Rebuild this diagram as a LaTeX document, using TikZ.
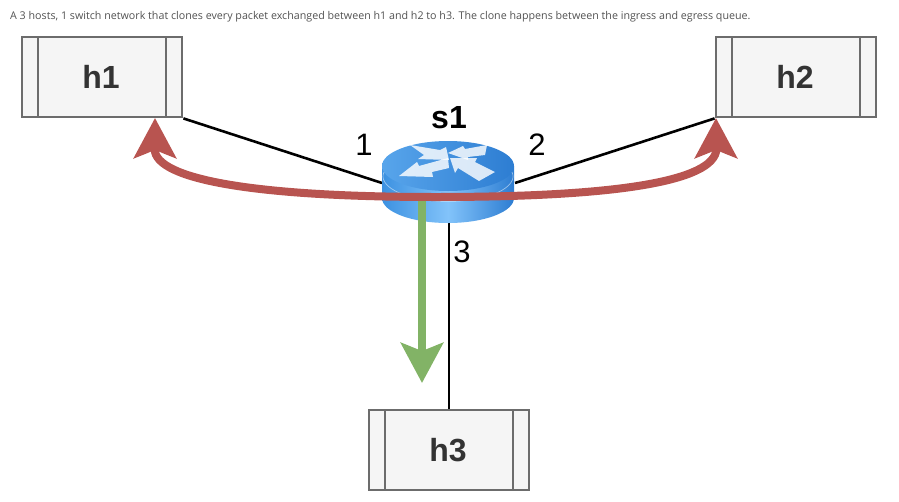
\documentclass[tikz,border=0pt]{standalone}
\usepackage{fontspec}
\setmainfont{Liberation Sans}
\newfontfamily\captionfont{Open Sans}
\usetikzlibrary{arrows.meta}
\definecolor{hostgray}{RGB}{108,108,108}
\definecolor{hostfill}{RGB}{245,245,245}
\definecolor{hosttext}{RGB}{51,51,51}
\definecolor{clonered}{RGB}{184,84,80}
\definecolor{clonegreen}{RGB}{130,179,102}
\definecolor{swtop}{RGB}{60,145,225}
\definecolor{swlight}{RGB}{130,195,250}
\definecolor{swdark}{RGB}{45,125,210}
\tikzset{
  hostbox/.style={draw=hostgray, line width=2.8pt, fill=hostfill, text=hosttext,
    minimum width=160pt, minimum height=80pt, inner sep=0pt, font=\fontsize{32}{32}\selectfont\bfseries,
    path picture={
      \draw [hostgray, line width=2.8pt] ([xshift=16pt]path picture bounding box.north west) -- ([xshift=16pt]path picture bounding box.south west);
      \draw [hostgray, line width=2.8pt] ([xshift=-16pt]path picture bounding box.north east) -- ([xshift=-16pt]path picture bounding box.south east);
    }},
  portlabel/.style={font=\fontsize{31}{31}\selectfont, text=black, inner sep=0pt},
  link/.style={black, line width=2.6pt},
  swarrow/.style={fill=white, fill opacity=0.82, draw=none},
  clonehead/.style={-{Stealth[length=40pt,width=42pt,inset=8pt]}},
}
\begin{document}
\begin{tikzpicture}[x=1pt,y=-1pt]
\useasboundingbox (0,0) rectangle (899,501);

\node [anchor=west, inner sep=0pt, text=hosttext!85] (caption) at (10,17)
  {\captionfont\fontsize{10.7}{12}\selectfont A 3 hosts, 1 switch network that clones every packet exchanged between h1 and h2 to h3. The clone happens between the ingress and egress queue.};

\node [hostbox] (h1) at (102,77) {\hspace{-2pt}h1};
\node [hostbox] (h2) at (796,77) {\hspace{-2pt}h2};
\node [hostbox] (h3) at (449,450) {\hspace{-2pt}h3};

% switch
\coordinate (p1) at (382,183);
\coordinate (p2) at (515,183);
\coordinate (p3) at (449,223);
\draw [link] (h1.south east) -- (p1);
\draw [link] (h2.south west) -- (p2);
\draw [link] (p3) -- (p3 |- h3.north);

\path [left color=swtop, right color=swdark, middle color=swlight]
  (382,166) -- (382,198) arc [start angle=180, end angle=0, x radius=66, y radius=25] -- (514,166) -- cycle;
\path [left color=swlight!40!swtop, right color=swdark] (448,166) ellipse [x radius=66, y radius=25];
\draw [white, opacity=0.5, line width=0.7pt] (384,172) arc [start angle=190, end angle=-10, x radius=65, y radius=25];

\fill [swarrow] (410,145) -- (440,150) -- (446,147) -- (449,160) -- (418,159) -- (424,155) -- cycle;
\fill [swarrow] (399,176) -- (417,162) -- (419,166) -- (448,158) -- (449,168) -- (432,172) -- (433,177) -- cycle;
\fill [swarrow] (448,153) -- (463,146) -- (465,149) -- (487,145) -- (485,155) -- (468,157) -- (468,160) -- cycle;
\fill [swarrow] (450,158) -- (477,158) -- (475,162) -- (495,172) -- (479,181) -- (458,168) -- (455,173) -- cycle;

\node [font=\fontsize{32}{32}\selectfont\bfseries, text=black, inner sep=0pt] (s1) at (449,118) {s1};
\node [portlabel] (l1) at (364,145) {1};
\node [portlabel] (l2) at (537,145) {2};
\node [portlabel] (l3) at (462,252) {3};

% cloned traffic
\coordinate (tipA) at (155,118);
\coordinate (tipB) at (716,118);
\coordinate (tipC) at (422,383);
\coordinate (mid) at (436,197);
\draw [clonegreen, line width=8pt, clonehead] (422,197) -- (tipC);
\draw [clonered, line width=8pt, clonehead] (mid) .. controls (270,197) and (162,182) .. (155,152) -- (tipA);
\draw [clonered, line width=8pt, clonehead] (mid) .. controls (600,197) and (708,184) .. (716,152) -- (tipB);

\end{tikzpicture}
\end{document}
